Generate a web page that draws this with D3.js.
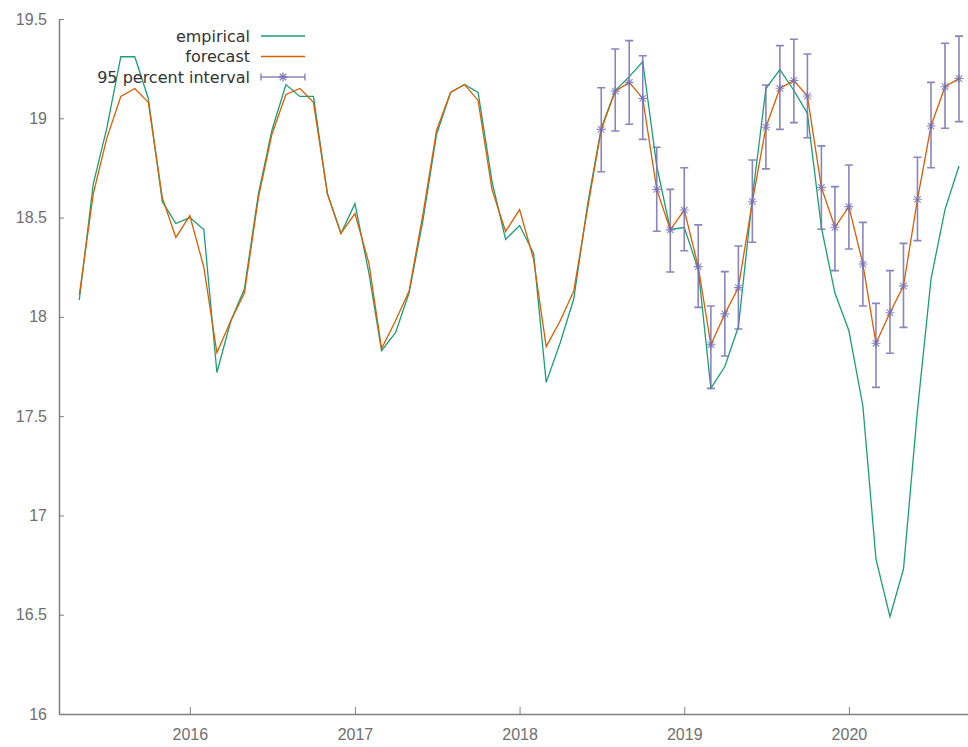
<!DOCTYPE html>
<html>
<head>
<meta charset="utf-8">
<script src="https://cdn.jsdelivr.net/npm/d3@7"></script>
<style>
  body { margin: 0; background: #fff; }
  svg { display: block; font-family: "DejaVu Sans", sans-serif; }
</style>
</head>
<body>
<svg id="chart" width="968" height="747"></svg>
<script>
const months = [
  "2015-05","2015-06","2015-07","2015-08","2015-09","2015-10","2015-11","2015-12",
  "2016-01","2016-02","2016-03","2016-04","2016-05","2016-06","2016-07","2016-08","2016-09","2016-10","2016-11","2016-12",
  "2017-01","2017-02","2017-03","2017-04","2017-05","2017-06","2017-07","2017-08","2017-09","2017-10","2017-11","2017-12",
  "2018-01","2018-02","2018-03","2018-04","2018-05","2018-06","2018-07","2018-08","2018-09","2018-10","2018-11","2018-12",
  "2019-01","2019-02","2019-03","2019-04","2019-05","2019-06","2019-07","2019-08","2019-09","2019-10","2019-11","2019-12",
  "2020-01","2020-02","2020-03","2020-04","2020-05","2020-06","2020-07","2020-08","2020-09"
];

const empirical = [
  18.085, 18.67, 18.95, 19.31, 19.31, 19.10, 18.58, 18.47,
  18.50, 18.44, 17.72, 17.98, 18.14, 18.62, 18.94, 19.17, 19.11, 19.11, 18.62, 18.42,
  18.57, 18.22, 17.83, 17.92, 18.12, 18.49, 18.92, 19.13, 19.17, 19.13, 18.68, 18.39,
  18.46, 18.32, 17.67, 17.87, 18.09, 18.57, 18.95, 19.14, 19.21, 19.285, 18.76, 18.44,
  18.45, 18.24, 17.64, 17.75, 17.95, 18.60, 19.15, 19.245, 19.14, 19.025, 18.45, 18.12,
  17.93, 17.55, 16.78, 16.49, 16.73, 17.53, 18.19, 18.54, 18.76
];

const forecast = [
  18.11, 18.62, 18.90, 19.11, 19.15, 19.08, 18.60, 18.40,
  18.51, 18.25, 17.82, 17.98, 18.12, 18.60, 18.92, 19.12, 19.15, 19.08, 18.62, 18.42,
  18.52, 18.27, 17.84, 17.98, 18.13, 18.52, 18.94, 19.13, 19.17, 19.09, 18.64, 18.43,
  18.54, 18.29, 17.85, 17.98, 18.13, 18.55, 18.944, 19.137, 19.181, 19.10, 18.642, 18.438,
  18.538, 18.253, 17.859, 18.015, 18.147, 18.58, 18.955, 19.151, 19.19, 19.112, 18.652, 18.451,
  18.555, 18.266, 17.867, 18.021, 18.156, 18.592, 18.961, 19.159, 19.20
];

// 95 percent interval, 2018-07 .. 2020-09
const intervalStart = "2018-07";
const intervalLower = [
  18.731, 18.936, 18.97, 18.894, 18.431, 18.226, 18.333, 18.048, 17.640, 17.803, 17.939, 18.376,
  18.745, 18.944, 18.978, 18.902, 18.441, 18.233, 18.342, 18.055, 17.645, 17.817, 17.947, 18.384,
  18.751, 18.95, 18.983
];
const intervalUpper = [
  19.154, 19.349, 19.391, 19.315, 18.854, 18.642, 18.751, 18.463, 18.055, 18.228, 18.357, 18.79,
  19.168, 19.366, 19.398, 19.324, 18.861, 18.656, 18.765, 18.476, 18.068, 18.233, 18.37, 18.804,
  19.181, 19.378, 19.414
];

const yTicks = [16, 16.5, 17, 17.5, 18, 18.5, 19, 19.5];
const xTicks = ["2016-01", "2017-01", "2018-01", "2019-01", "2020-01"];
const legendLabels = ["empirical", "forecast", "95 percent interval"];

const parse = d3.timeParse("%Y-%m");
const dates = months.map(parse);

const colors = {empirical: "#1b9e77", forecast: "#d95f02", interval: "#7570b3"};

let svg = d3.select("#chart");
let margin = {top: 19, left: 59, bottom: 33, right: 0};
let width = 968, height = 747;

let x = d3.scaleTime()
    .domain([new Date(2015, 2, 17), new Date(2020, 8, 21)])
    .range([margin.left, width - margin.right]);
let y = d3.scaleLinear()
    .domain([16, 19.5])
    .range([height - margin.bottom, margin.top]);

// axes
let xAxis = d3.axisBottom(x)
    .tickValues(xTicks.map(parse))
    .tickFormat(d3.timeFormat("%Y"))
    .tickSizeInner(-7).tickSizeOuter(0).tickPadding(15);
let yAxis = d3.axisLeft(y)
    .tickValues(yTicks)
    .tickFormat(d => d)
    .tickSizeInner(-5).tickSizeOuter(0).tickPadding(12);

let gx = svg.append("g")
    .attr("transform", "translate(0," + y(16) + ")")
    .call(xAxis);
let gy = svg.append("g")
    .attr("transform", "translate(" + margin.left + ",0)")
    .call(yAxis);

[gx, gy].forEach(g => {
    g.select(".domain").attr("stroke", "#808080").attr("stroke-width", 1.5);
    g.selectAll(".tick line").attr("stroke", "#808080").attr("stroke-width", 1);
    g.selectAll(".tick text").attr("fill", "#6f6f6f").style("font-size", "16px");
});
gx.selectAll(".tick text").attr("dy", "0.71em");

// lines
let line = d3.line()
    .x((d, i) => x(dates[i]))
    .y(d => y(d));

svg.append("path")
    .datum(empirical)
    .attr("fill", "none")
    .attr("stroke", colors.empirical)
    .attr("stroke-width", 1.3)
    .attr("d", line);

svg.append("path")
    .datum(forecast)
    .attr("fill", "none")
    .attr("stroke", colors.forecast)
    .attr("stroke-width", 1.3)
    .attr("d", line);

// interval bars with star markers
let startIdx = months.indexOf(intervalStart);
let bars = intervalLower.map((lo, i) => ({
    date: dates[startIdx + i],
    lo: lo,
    hi: intervalUpper[i],
    mid: forecast[startIdx + i]
}));

let starPath = (cx, cy, r) => {
    let d = r * 0.72;
    return "M" + (cx - r) + "," + cy + "H" + (cx + r) +
        "M" + cx + "," + (cy - r) + "V" + (cy + r) +
        "M" + (cx - d) + "," + (cy - d) + "L" + (cx + d) + "," + (cy + d) +
        "M" + (cx - d) + "," + (cy + d) + "L" + (cx + d) + "," + (cy - d);
};

let gb = svg.append("g")
    .attr("stroke", colors.interval)
    .attr("stroke-opacity", 0.85)
    .attr("fill", "none");

gb.selectAll("path.bar")
    .data(bars)
    .enter()
    .append("path")
    .attr("class", "bar")
    .attr("stroke-width", 1.6)
    .attr("d", d => {
        let cx = x(d.date), c = 4;
        return "M" + cx + "," + y(d.lo) + "V" + y(d.hi) +
            "M" + (cx - c) + "," + y(d.hi) + "H" + (cx + c) +
            "M" + (cx - c) + "," + y(d.lo) + "H" + (cx + c);
    });

gb.selectAll("path.star")
    .data(bars)
    .enter()
    .append("path")
    .attr("class", "star")
    .attr("stroke-width", 1.1)
    .attr("d", d => starPath(x(d.date), y(d.mid), 4.5));

// legend
let legend = svg.append("g");
legendLabels.forEach((label, i) => {
    let ly = 36 + i * 20.5;
    legend.append("text")
        .attr("x", 250)
        .attr("y", ly)
        .attr("dy", "0.35em")
        .attr("text-anchor", "end")
        .attr("fill", "#333")
        .style("font-size", "16px")
        .text(label);
    let key = [colors.empirical, colors.forecast, colors.interval][i];
    legend.append("line")
        .attr("x1", 261).attr("x2", 305)
        .attr("y1", ly).attr("y2", ly)
        .attr("stroke", key)
        .attr("stroke-width", i === 2 ? 1.6 : 1.3)
        .attr("stroke-opacity", i === 2 ? 0.85 : 1);
    if (i === 2) {
        legend.append("path")
            .attr("d", "M261," + (ly - 3.5) + "V" + (ly + 3.5) + "M305," + (ly - 3.5) + "V" + (ly + 3.5) + starPath(283, ly, 4.5))
            .attr("stroke", key)
            .attr("stroke-opacity", 0.85)
            .attr("stroke-width", 1.4)
            .attr("fill", "none");
    }
});
</script>
</body>
</html>
